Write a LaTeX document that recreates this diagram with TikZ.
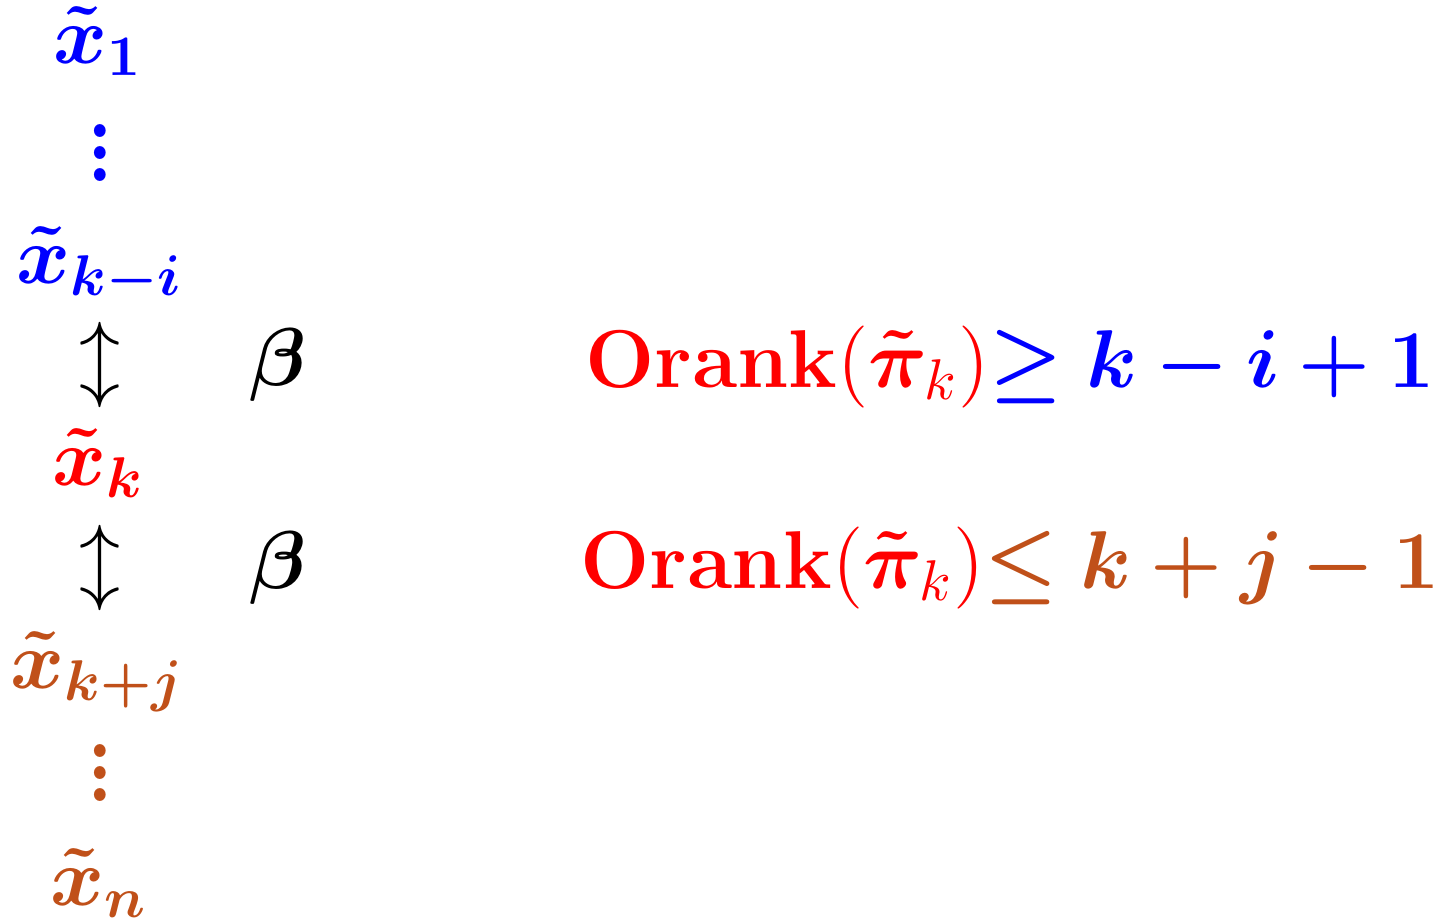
\RequirePackage{fix-cm}
\documentclass[tikz,border=0pt]{standalone}
\usepackage{amsmath,bm}
\definecolor{myblue}{RGB}{0,0,255}
\definecolor{myred}{RGB}{255,0,0}
\definecolor{mybrown}{RGB}{192,80,25}
\tikzset{lbl/.style={inner sep=0pt, anchor=base, font=\fontsize{16.4}{20}\selectfont}}
\begin{document}
\begin{tikzpicture}[x=0.2pt,y=-0.2pt]
\useasboundingbox (0,0) rectangle (1441,920);
\node[lbl, text=myblue] (x1) at (98,63) {$\bm{\tilde{x}_1}$};
\node[lbl, text=myblue, yscale=1.1] (d1) at (100,181) {$\bm{\vdots}$};
\node[lbl, text=myblue] (xki) at (100,283) {$\bm{\tilde{x}_{k-i}}$};
\node[lbl] (a1) at (100,385) {$\updownarrow$};
\node[lbl] (b1) at (278,385) {$\bm{\beta}$};
\node[lbl, text=myred] (xk) at (99,485) {$\bm{\tilde{x}_{k}}$};
\node[lbl] (a2) at (100,588) {$\updownarrow$};
\node[lbl] (b2) at (278,588) {$\bm{\beta}$};
\node[lbl, text=mybrown] (xkj) at (98,688) {$\bm{\tilde{x}_{k+j}}$};
\node[lbl, text=mybrown, yscale=1.1] (d2) at (100,801) {$\bm{\vdots}$};
\node[lbl, text=mybrown] (xn) at (99,905) {$\bm{\tilde{x}_{n}}$};
\node[lbl] (r1) at (1010,387) {$\color{myred}\mathbf{Orank}(\bm{\tilde{\pi}}_k){\color{myblue}\bm{\geq k-i+1}}$};
\node[lbl] (r2) at (1010,588) {$\color{myred}\mathbf{Orank}(\bm{\tilde{\pi}}_k){\color{mybrown}\bm{\leq k+j-1}}$};
\end{tikzpicture}
\end{document}
